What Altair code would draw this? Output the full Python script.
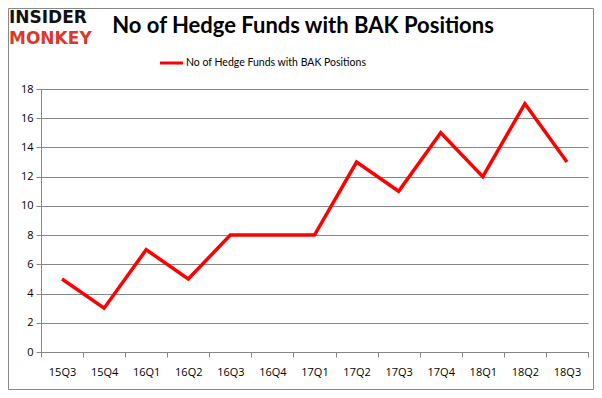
import altair as alt
import pandas as pd

quarters = ["15Q3", "15Q4", "16Q1", "16Q2", "16Q3", "16Q4", "17Q1",
            "17Q2", "17Q3", "17Q4", "18Q1", "18Q2", "18Q3"]
funds = [5, 3, 7, 5, 8, 8, 8, 13, 11, 15, 12, 17, 13]
series_name = "No of Hedge Funds with BAK Positions"
title_text = "No of Hedge Funds with BAK Positions"
y_ticks = [0, 2, 4, 6, 8, 10, 12, 14, 16, 18]

df = pd.DataFrame({"quarter": quarters, "funds": funds})

W, H = 547, 263
PL, PT, PR, PB = 33, 81, 6, 38
GRID = "#868686"

line = alt.Chart(df).mark_line(color="#ff0000", strokeWidth=3.5, strokeJoin="miter").encode(
    x=alt.X("quarter:O", sort=quarters, bandPosition=0.5,
            scale=alt.Scale(type="band", paddingInner=0, paddingOuter=0),
            axis=alt.Axis(title=None, labelAngle=0, tickBand="extent", tickSize=5,
                          tickColor=GRID, domainColor=GRID, labelFont="Open Sans",
                          labelFontSize=11, labelColor="#000000", labelPadding=9,
                          grid=False)),
    y=alt.Y("funds:Q", scale=alt.Scale(domain=[0, 18], nice=False),
            axis=alt.Axis(title=None, values=y_ticks, tickSize=5, tickColor=GRID,
                          domainColor=GRID, gridColor=GRID, labelFont="Open Sans",
                          labelFontSize=11, labelColor="#000000", labelPadding=3)),
)

title = alt.Chart(pd.DataFrame({"t": [title_text]})).mark_text(
    font="Lato", fontSize=22, fontWeight="bold", color="#000000", baseline="middle",
    align="center").encode(text="t:N", x=alt.value(262), y=alt.value(-63))

logo1 = alt.Chart(pd.DataFrame({"t": ["INSIDER"]})).mark_text(
    font="DejaVu Sans", fontSize=17, fontWeight="bold", color="#111111",
    baseline="middle", align="left").encode(text="t:N", x=alt.value(-32), y=alt.value(-71))
logo2 = alt.Chart(pd.DataFrame({"t": ["MONKEY"]})).mark_text(
    font="DejaVu Sans", fontSize=17, fontWeight="bold", color="#d9382a",
    baseline="middle", align="left").encode(text="t:N", x=alt.value(-32), y=alt.value(-50))

leg_line = alt.Chart(pd.DataFrame({"a": [0]})).mark_rule(color="#ff0000", strokeWidth=3).encode(
    x=alt.value(119), x2=alt.value(142), y=alt.value(-26))
leg_text = alt.Chart(pd.DataFrame({"t": [series_name]})).mark_text(
    font="Lato", fontSize=10.5, color="#000000", baseline="middle", align="left").encode(
    text="t:N", x=alt.value(145), y=alt.value(-26))

border = alt.Chart(pd.DataFrame({"a": [0]})).mark_rect(
    fill=None, stroke="#888888", strokeWidth=1).encode(
    x=alt.value(-PL + 0.5), x2=alt.value(W + PR - 0.5),
    y=alt.value(-PT + 0.5), y2=alt.value(H + PB - 0.5))

chart = alt.layer(border, line, title, logo1, logo2, leg_line, leg_text).properties(
    width=W, height=H,
    autosize=alt.AutoSizeParams(type="none"),
    padding={"left": PL, "top": PT, "right": PR, "bottom": PB},
    background="#ffffff",
).configure_view(stroke=None)

chart.save("out.html", embed_options={"renderer": "svg", "actions": False})
